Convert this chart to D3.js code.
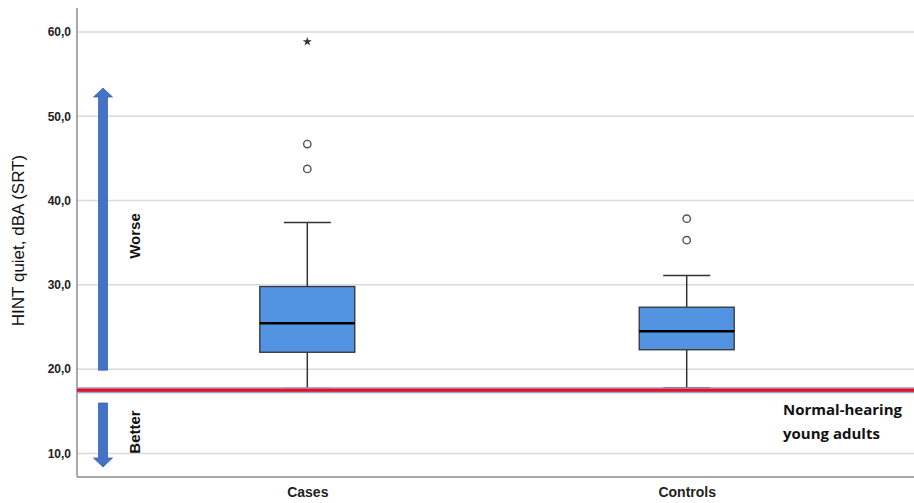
<!DOCTYPE HTML>
<html>
  <head>
    <style>
    	body {
    		margin: 0px;
    		background: #ffffff;
    	}
    	text {
    		font-family: "Liberation Sans", Arial, sans-serif;
    	}
	</style>
  </head>
  <body>

	<script type="text/javascript" src="https://cdn.jsdelivr.net/npm/d3@7/dist/d3.min.js"></script>

    <script>

		// *** DATA ***
		var groups = ['Cases', 'Controls'];
		var q1 = [22.0, 22.3];
		var medians = [25.45, 24.5];
		var q3 = [29.8, 27.35];
		var whiskerLow = [17.7, 17.8];
		var whiskerHigh = [37.4, 31.1];
		var outliers = [[46.7, 43.75], [37.85, 35.3]];
		var extremes = [[58.85], []];
		var yTicks = [10, 20, 30, 40, 50, 60];
		var normalHearing = 17.5;

		// *** LAYOUT ***
		var width = 914, height = 503;
		var plotLeft = 77, plotTop = 8, plotBottom = 477;

		var svg = d3.select("body").append("svg")
			.attr("width", width)
			.attr("height", height);

		var y = d3.scaleLinear().domain([7.2, 62.85]).range([plotBottom, plotTop]);
		var x = d3.scalePoint().domain(groups).range([plotLeft, 917]).padding(0.607);
		var boxW = 95, capW = 47;

		// Gridlines
		svg.append("g").selectAll("line").data(yTicks)
			.enter().append("line")
			.attr("x1", plotLeft).attr("x2", width)
			.attr("y1", function(d){return y(d)})
			.attr("y2", function(d){return y(d)})
			.style("stroke", "#d9d9d9")
			.style("stroke-width", 1.5);

		// Y axis
		var yAxis = d3.axisLeft(y).tickValues(yTicks).tickSize(0).tickPadding(6)
			.tickFormat(function(d){return d3.format(".1f")(d).replace(".", ",")});
		var gy = svg.append("g").attr("transform", "translate(" + plotLeft + ",0)").call(yAxis);
		gy.select(".domain").remove();
		gy.selectAll("text")
			.style("font-size", "12px").style("font-weight", "bold").style("fill", "#222");

		// X axis
		var xAxis = d3.axisBottom(x).tickSize(0).tickPadding(10);
		var gx = svg.append("g").attr("transform", "translate(0," + plotBottom + ")").call(xAxis);
		gx.select(".domain").remove();
		gx.selectAll("text")
			.style("font-size", "14px").style("font-weight", "bold").style("fill", "#222");

		// Axis lines
		svg.append("line").attr("x1", plotLeft).attr("x2", plotLeft).attr("y1", plotTop).attr("y2", plotBottom)
			.style("stroke", "#8c8c8c").style("stroke-width", 1.5);
		svg.append("line").attr("x1", plotLeft).attr("x2", width).attr("y1", plotBottom).attr("y2", plotBottom)
			.style("stroke", "#8c8c8c").style("stroke-width", 1.5);

		// Y title
		svg.append("text")
			.attr("transform", "translate(24," + ((plotTop + plotBottom) / 2 - 2) + ") rotate(-90)")
			.attr("text-anchor", "middle")
			.style("font-size", "17px")
			.style("fill", "#111")
			.text("HINT quiet, dBA (SRT)");

		// Boxes data
		var boxes = groups.map(function(g, i){
			return {g: g, q1: q1[i], med: medians[i], q3: q3[i], lo: whiskerLow[i], hi: whiskerHigh[i],
				out: outliers[i], ext: extremes[i]};
		});

		var bg = svg.append("g").selectAll("g").data(boxes).enter().append("g");

		// whiskers
		bg.append("line")
			.attr("x1", function(d){return x(d.g)}).attr("x2", function(d){return x(d.g)})
			.attr("y1", function(d){return y(d.hi)}).attr("y2", function(d){return y(d.q3)})
			.style("stroke", "#333").style("stroke-width", 1.5);
		bg.append("line")
			.attr("x1", function(d){return x(d.g)}).attr("x2", function(d){return x(d.g)})
			.attr("y1", function(d){return y(d.q1)}).attr("y2", function(d){return y(d.lo)})
			.style("stroke", "#333").style("stroke-width", 1.5);
		bg.append("line")
			.attr("x1", function(d){return x(d.g) - capW/2}).attr("x2", function(d){return x(d.g) + capW/2})
			.attr("y1", function(d){return y(d.hi)}).attr("y2", function(d){return y(d.hi)})
			.style("stroke", "#333").style("stroke-width", 1.5);
		bg.append("line")
			.attr("x1", function(d){return x(d.g) - capW/2}).attr("x2", function(d){return x(d.g) + capW/2})
			.attr("y1", function(d){return y(d.lo)}).attr("y2", function(d){return y(d.lo)})
			.style("stroke", "#333").style("stroke-width", 1.5);

		// box
		bg.append("rect")
			.attr("x", function(d){return x(d.g) - boxW/2})
			.attr("y", function(d){return y(d.q3)})
			.attr("width", boxW)
			.attr("height", function(d){return y(d.q1) - y(d.q3)})
			.style("fill", "#5294e2")
			.style("stroke", "#333")
			.style("stroke-width", 1.3);
		bg.append("line")
			.attr("x1", function(d){return x(d.g) - boxW/2}).attr("x2", function(d){return x(d.g) + boxW/2})
			.attr("y1", function(d){return y(d.med)}).attr("y2", function(d){return y(d.med)})
			.style("stroke", "#000").style("stroke-width", 2.5);

		// outliers
		bg.selectAll("circle").data(function(d){return d.out.map(function(v){return {g: d.g, v: v}})})
			.enter().append("circle")
			.attr("cx", function(d){return x(d.g)}).attr("cy", function(d){return y(d.v)})
			.attr("r", 3.7)
			.style("fill", "#fff").style("stroke", "#555").style("stroke-width", 1.4);

		// extremes
		bg.selectAll("path.ext").data(function(d){return d.ext.map(function(v){return {g: d.g, v: v}})})
			.enter().append("path").attr("class", "ext")
			.attr("transform", function(d){return "translate(" + x(d.g) + "," + y(d.v) + ")"})
			.attr("d", d3.symbol(d3.symbolStar, 26))
			.style("fill", "#333");

		// Normal-hearing line
		svg.append("line").attr("x1", plotLeft).attr("x2", width)
			.attr("y1", y(normalHearing)).attr("y2", y(normalHearing))
			.style("stroke", "#9a9ec4").style("stroke-width", 6);
		svg.append("line").attr("x1", plotLeft).attr("x2", width)
			.attr("y1", y(normalHearing)).attr("y2", y(normalHearing))
			.style("stroke", "#e8101e").style("stroke-width", 3);

		svg.append("text").attr("x", 783).attr("y", 415)
			.style("font-family", "'Open Sans', sans-serif")
			.style("font-size", "15px").style("font-weight", "bold").style("fill", "#111")
			.text("Normal-hearing");
		svg.append("text").attr("x", 783).attr("y", 439)
			.style("font-family", "'Open Sans', sans-serif")
			.style("font-size", "15px").style("font-weight", "bold").style("fill", "#111")
			.text("young adults");

		// Arrows
		var ax = 103, shaft = 9, head = 19, headLen = 9;
		var arrowColor = "#4472c4";
		function arrow(yStart, yTip){
			var dir = yTip < yStart ? -1 : 1;
			var yBase = yTip - dir * headLen;
			var pts = [
				[ax - shaft/2, yStart], [ax - shaft/2, yBase], [ax - head/2, yBase],
				[ax, yTip], [ax + head/2, yBase], [ax + shaft/2, yBase], [ax + shaft/2, yStart]
			];
			svg.append("path")
				.attr("d", d3.line()(pts) + "Z")
				.style("fill", arrowColor)
				.style("stroke", "#3a62ad")
				.style("stroke-width", 0.8);
		}
		arrow(y(20.0) + 1, 88);
		arrow(403, 467);

		svg.append("text")
			.attr("transform", "translate(140,236) rotate(-90)")
			.attr("text-anchor", "middle")
			.style("font-size", "15px").style("font-weight", "bold").style("fill", "#111")
			.text("Worse");
		svg.append("text")
			.attr("transform", "translate(140,432) rotate(-90)")
			.attr("text-anchor", "middle")
			.style("font-size", "15px").style("font-weight", "bold").style("fill", "#111")
			.text("Better");

	</script>

  </body>
</html>
